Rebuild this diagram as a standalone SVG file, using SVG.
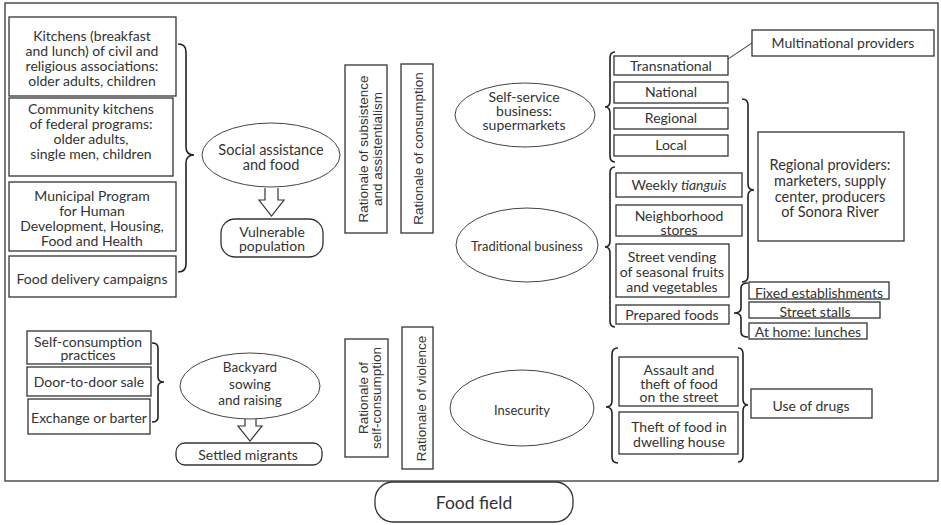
<svg xmlns="http://www.w3.org/2000/svg" width="941" height="525" viewBox="0 0 941 525">
<style>
.box{fill:#fff;stroke:#333;stroke-width:1.3}
.ell{fill:#fff;stroke:#444;stroke-width:1}
.t{font-family:Lato,"Open Sans",sans-serif;font-size:14px;fill:#333;text-anchor:middle}
.s{font-size:13px}
.r{font-family:"Liberation Sans",Arial,sans-serif;font-size:13.5px;fill:#333;text-anchor:middle}
.br{fill:none;stroke:#222;stroke-width:1.6}
.arr{fill:#fff;stroke:#333;stroke-width:1.2}
</style>
<rect width="941" height="525" fill="#fff"/>
<rect id="frame" x="5" y="3" width="933" height="478" fill="none" stroke="#333" stroke-width="1.3"/>

<g id="connectors">
<path class="br" stroke-width="2.4" d="M178,44 Q186,44 186,52 L186,147 Q186,155 194,155 Q186,155 186,163 L186,264 Q186,272 178,272"/>
<path class="br" d="M615,52 Q610,52 610,58 L610,101 Q610,107 605,107 Q610,107 610,113 L610,156 Q610,162 615,162"/>
<path class="br" d="M615,167 Q610,167 610,173 L610,241 Q610,247 605,247 Q610,247 610,253 L610,321 Q610,327 615,327"/>
<path class="br" d="M742,99 Q748,99 748,105 L748,184 Q748,190 754,190 Q748,190 748,196 L748,276 Q748,282 742,282"/>
<path class="br" d="M748,283 Q741,283 741,288 L741,308 Q741,313 734,313 Q741,313 741,318 L741,332 Q741,337 748,337"/>
<path class="br" d="M152,343 Q158,343 158,348 L158,377 Q158,382 164,382 Q158,382 158,387 L158,417 Q158,422 152,422"/>
<path class="br" d="M618,348 Q612,348 612,354 L612,401 Q612,407 606,407 Q612,407 612,413 L612,457 Q612,463 618,463"/>
<path class="br" d="M738,348 Q743,348 743,354 L743,399 Q743,405 748,405 Q743,405 743,411 L743,456 Q743,462 738,462"/>
<line x1="728" y1="59" x2="752" y2="43" stroke="#333" stroke-width="1"/>
<path class="arr" d="M265,188 L265,200 L259,200 L271.5,216 L284,200 L278,200 L278,188"/>
<path class="arr" d="M245,419 L245,426 L238,426 L250,441 L262,426 L256,426 L256,419"/>
</g>

<g id="kitchens">
<rect class="box" x="9" y="17" width="167" height="79"/>
<text class="t" x="92" y="40.5">Kitchens (breakfast</text>
<text class="t" x="92" y="55.5">and lunch) of civil and</text>
<text class="t" x="92" y="70.5">religious associations:</text>
<text class="t" x="92" y="85.5">older adults, children</text>
</g>
<g id="community">
<rect class="box" x="9" y="98" width="164" height="78"/>
<text class="t" x="91" y="114">Community kitchens</text>
<text class="t" x="91" y="129">of federal programs:</text>
<text class="t" x="91" y="144">older adults,</text>
<text class="t" x="91" y="159">single men, children</text>
</g>
<g id="municipal">
<rect class="box" x="9" y="182" width="167" height="69"/>
<text class="t" x="92" y="201">Municipal Program</text>
<text class="t" x="92" y="216">for Human</text>
<text class="t" x="92" y="231">Development, Housing,</text>
<text class="t" x="92" y="246">Food and Health</text>
</g>
<g id="delivery">
<rect class="box" x="9" y="256" width="167" height="41"/>
<text class="t" x="92" y="283.5">Food delivery campaigns</text>
</g>
<g id="social">
<ellipse class="ell" cx="271" cy="155" rx="69" ry="32"/>
<text class="t" x="271" y="155" style="font-size:14.5px">Social assistance</text>
<text class="t" x="271" y="170" style="font-size:14.5px">and food</text>
</g>
<g id="vulnerable">
<rect class="box" x="221" y="219" width="102" height="38" rx="14" stroke-width="1"/>
<text class="t" x="272" y="237">Vulnerable</text>
<text class="t" x="272" y="251">population</text>
</g>
<g id="r-subsistence">
<rect class="box" x="345" y="65" width="42" height="168"/>
<text class="r" transform="translate(368,149) rotate(-90)">Rationale of subsistence</text>
<text class="r" transform="translate(382,149) rotate(-90)">and assistentialism</text>
</g>
<g id="r-consumption">
<rect class="box" x="401" y="64" width="32" height="169"/>
<text class="r" transform="translate(423,148.5) rotate(-90)">Rationale of consumption</text>
</g>
<g id="selfservice">
<ellipse class="ell" cx="525" cy="115" rx="70" ry="32"/>
<text class="t" x="524" y="102">Self-service</text>
<text class="t" x="524" y="116">business:</text>
<text class="t" x="524" y="130">supermarkets</text>
</g>
<g id="traditional">
<ellipse class="ell" cx="527" cy="245" rx="71" ry="37"/>
<text class="t s" x="527" y="251">Traditional business</text>
</g>
<g id="multinational">
<rect class="box" x="752" y="30" width="182" height="26"/>
<text class="t" x="843" y="48">Multinational providers</text>
</g>
<g id="transnational">
<rect class="box" x="614" y="56" width="114" height="19"/>
<text class="t" x="671" y="70.5">Transnational</text>
</g>
<g id="national">
<rect class="box" x="614" y="82" width="114" height="21"/>
<text class="t" x="671" y="97">National</text>
</g>
<g id="regional">
<rect class="box" x="614" y="108" width="114" height="21"/>
<text class="t" x="671" y="123">Regional</text>
</g>
<g id="local">
<rect class="box" x="614" y="135" width="114" height="21"/>
<text class="t" x="671" y="150">Local</text>
</g>
<g id="tianguis">
<rect class="box" x="616" y="173" width="126" height="24"/>
<text class="t" x="679" y="190">Weekly <tspan font-style="italic">tianguis</tspan></text>
</g>
<g id="neighborhood">
<rect class="box" x="616" y="205" width="126" height="31"/>
<text class="t" x="679" y="220.5">Neighborhood</text>
<text class="t" x="679" y="234.5">stores</text>
</g>
<g id="streetvending">
<rect class="box" x="616" y="244" width="113" height="53"/>
<text class="t" x="672" y="262">Street vending</text>
<text class="t" x="672" y="277">of seasonal fruits</text>
<text class="t" x="672" y="292">and vegetables</text>
</g>
<g id="prepared">
<rect class="box" x="616" y="305" width="113" height="19"/>
<text class="t" x="672" y="320">Prepared foods</text>
</g>
<g id="regionalproviders">
<rect class="box" x="758" y="132" width="146" height="109"/>
<text class="t" x="830" y="169.5" style="font-size:14.5px">Regional providers:</text>
<text class="t" x="830" y="185.5" style="font-size:14.5px">marketers, supply</text>
<text class="t" x="830" y="201.5" style="font-size:14.5px">center, producers</text>
<text class="t" x="830" y="217" style="font-size:14.5px">of Sonora River</text>
</g>
<g id="fixed">
<rect class="box" x="749" y="282" width="140" height="17"/>
<text class="t" x="819" y="297.5">Fixed establishments</text>
</g>
<g id="stalls">
<rect class="box" x="749" y="302" width="131" height="16"/>
<text class="t" x="815" y="316.5">Street stalls</text>
</g>
<g id="athome">
<rect class="box" x="749" y="323" width="118" height="16"/>
<text class="t" x="808" y="337">At home: lunches</text>
</g>
<g id="selfpractices">
<rect class="box" x="27" y="331" width="124" height="33"/>
<text class="t" x="88" y="346.5">Self-consumption</text>
<text class="t" x="88" y="359.5">practices</text>
</g>
<g id="doortodoor">
<rect class="box" x="27" y="367" width="124" height="29"/>
<text class="t" x="89" y="387">Door-to-door sale</text>
</g>
<g id="exchange">
<rect class="box" x="28" y="399" width="122" height="35"/>
<text class="t" x="89" y="423">Exchange or barter</text>
</g>
<g id="backyard">
<ellipse class="ell" cx="250" cy="386" rx="70" ry="33"/>
<text class="t" x="250" y="372" style="font-size:13.5px">Backyard</text>
<text class="t" x="250" y="389" style="font-size:13.5px">sowing</text>
<text class="t" x="250" y="405" style="font-size:13.5px">and raising</text>
</g>
<g id="settled">
<rect class="box" x="176" y="443" width="146" height="22" rx="9" stroke-width="1"/>
<text class="t" x="248" y="459.5">Settled migrants</text>
</g>
<g id="r-selfconsumption">
<rect class="box" x="345" y="339" width="43" height="118"/>
<text class="r" transform="translate(368,398) rotate(-90)">Rationale of</text>
<text class="r" transform="translate(381,398) rotate(-90)">self-consumption</text>
</g>
<g id="r-violence">
<rect class="box" x="402" y="327" width="31" height="142"/>
<text class="r" transform="translate(426,398.5) rotate(-90)">Rationale of violence</text>
</g>
<g id="insecurity">
<ellipse class="ell" cx="522" cy="408" rx="72" ry="38"/>
<text class="t s" x="522" y="415">Insecurity</text>
</g>
<g id="assault">
<rect class="box" x="619" y="357" width="119" height="49"/>
<text class="t" x="679" y="375">Assault and</text>
<text class="t" x="679" y="388.5">theft of food</text>
<text class="t" x="679" y="402">on the street</text>
</g>
<g id="theft">
<rect class="box" x="619" y="412" width="119" height="42"/>
<text class="t" x="679" y="432">Theft of food in</text>
<text class="t" x="679" y="447">dwelling house</text>
</g>
<g id="drugs">
<rect class="box" x="751" y="389" width="121" height="29"/>
<text class="t" x="811" y="411">Use of drugs</text>
</g>
<g id="foodfield">
<rect class="box" x="375" y="482" width="198" height="40" rx="18" stroke-width="1"/>
<text class="t" x="474" y="509" style="font-size:17.5px">Food field</text>
</g>
</svg>
